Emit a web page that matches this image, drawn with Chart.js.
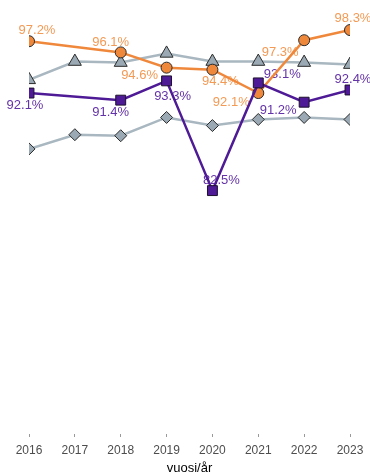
<!DOCTYPE html>
<html>
<head>
<meta charset="utf-8">
<script src="https://cdn.jsdelivr.net/npm/chart.js@4"></script>
<style>
  body { margin: 0; background: #fff; }
  #wrap { width: 370px; height: 474px; }
</style>
</head>
<body>
<div id="wrap"><canvas id="myChart"></canvas></div>
<script>
// data
const years = [2016, 2017, 2018, 2019, 2020, 2021, 2022, 2023];
const orangeVals = [97.2, null, 96.1, 94.6, 94.4, 92.1, 97.3, 98.3];
const purpleVals = [92.1, null, 91.4, 93.3, 82.5, 93.1, 91.2, 92.4];
const triangleVals = [93.4, 95.2, 95.1, 96.0, 95.2, 95.2, 95.1, 94.9];
const diamondVals = [86.6, 88.0, 87.9, 89.7, 88.9, 89.5, 89.7, 89.5];

// label offsets (px) from the point, to mimic the repelled labels
const orangeOff = [[8, -11], null, [-10, -10], [-27, 8], [8, 12], [-27, 9], [-24, 12], [3, -12]];
const purpleOff = [[-4, 12], null, [-10, 12], [6, 16], [9, -10], [24, -8], [-26, 8], [3, -11]];

function pts(vals) {
  return years.map((y, i) => ({ x: y, y: vals[i] }));
}

const labelPlugin = {
  id: 'pctLabels',
  beforeDatasetsDraw(chart) {
    const ctx = chart.ctx;
    ctx.save();
    ctx.font = '13px "Liberation Sans", Arial, sans-serif';
    ctx.textAlign = 'center';
    ctx.textBaseline = 'middle';
    chart.data.datasets.forEach((ds, di) => {
      if (!ds.labelOff) return;
      const meta = chart.getDatasetMeta(di);
      ctx.fillStyle = ds.labelColor;
      meta.data.forEach((p, i) => {
        const v = ds.data[i].y;
        const off = ds.labelOff[i];
        if (v == null || !off) return;
        ctx.fillText(v.toFixed(1) + '%', p.x + off[0], p.y + off[1]);
      });
    });
    ctx.restore();
  }
};

const ctx = document.getElementById('myChart');

new Chart(ctx, {
  type: 'line',
  data: {
    datasets: [{
      label: 'diamond',
      data: pts(diamondVals),
      borderColor: '#a9b7c0',
      backgroundColor: '#9aa9b3',
      borderWidth: 2.5,
      pointStyle: 'rectRot',
      pointRadius: 6,
      pointBorderColor: '#2b2b2b',
      pointBorderWidth: 1,
      order: 4
    }, {
      label: 'triangle',
      data: pts(triangleVals),
      borderColor: '#a9b7c0',
      backgroundColor: '#9aa9b3',
      borderWidth: 2.5,
      pointStyle: 'triangle',
      pointRadius: 7.5,
      pointBorderColor: '#2b2b2b',
      pointBorderWidth: 1,
      order: 3
    }, {
      label: 'orange',
      data: pts(orangeVals),
      borderColor: '#f0883c',
      backgroundColor: '#f0883c',
      borderWidth: 2.5,
      pointStyle: 'circle',
      pointRadius: 5.5,
      pointBorderColor: '#2b2b2b',
      pointBorderWidth: 1,
      spanGaps: true,
      labelOff: orangeOff,
      labelColor: '#f39a55',
      order: 2
    }, {
      label: 'purple',
      data: pts(purpleVals),
      borderColor: '#4e1a96',
      backgroundColor: '#4e1a96',
      borderWidth: 2.5,
      pointStyle: 'rect',
      pointRadius: 7,
      pointBorderColor: '#1e1030',
      pointBorderWidth: 1,
      spanGaps: true,
      labelOff: purpleOff,
      labelColor: '#6433a8',
      order: 1
    }]
  },
  options: {
    responsive: true,
    maintainAspectRatio: false,
    animation: false,
    layout: { padding: { left: 29, right: 20, top: 0, bottom: 0 } },
    plugins: {
      legend: { display: false },
      tooltip: { enabled: false }
    },
    scales: {
      x: {
        type: 'linear',
        min: 2016,
        max: 2023,
        border: { display: false },
        grid: {
          drawOnChartArea: false,
          drawTicks: true,
          tickLength: 3,
          color: '#999'
        },
        ticks: {
          stepSize: 1,
          padding: 6,
          color: '#4d4d4d',
          font: { family: '"Liberation Sans", Arial, sans-serif', size: 12 },
          callback: v => String(v)
        },
        title: {
          display: true,
          text: 'vuosi/år',
          color: '#000',
          padding: { top: -3, bottom: -2 },
          font: { family: '"Liberation Sans", Arial, sans-serif', size: 13 }
        }
      },
      y: {
        display: false,
        min: 58.55,
        max: 100.42
      }
    }
  },
  plugins: [labelPlugin]
});
</script>
</body>
</html>
